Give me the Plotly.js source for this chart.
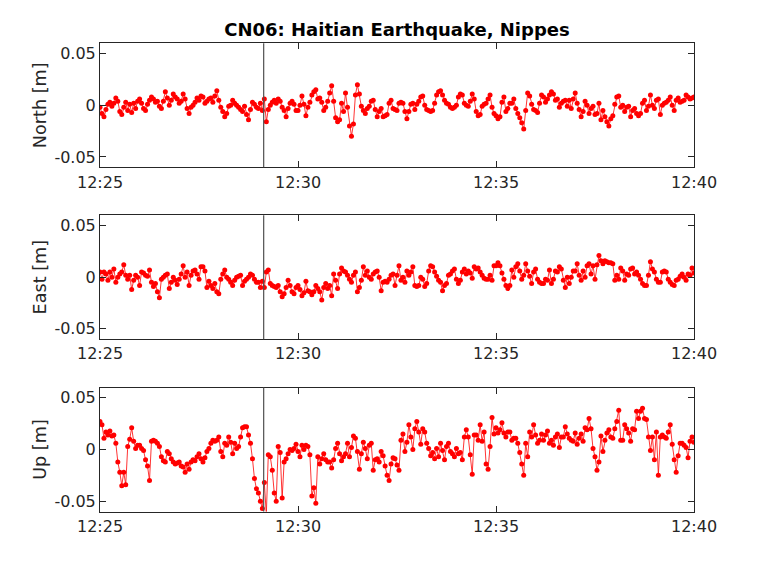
<!DOCTYPE html>
<html>
<head>
<meta charset="utf-8">
<script src="https://cdn.plot.ly/plotly-3.0.1.min.js"></script>
<style>html,body{margin:0;padding:0;background:#fff;}#chart{width:768px;height:576px;}</style>
</head>
<body>
<div id="chart"></div>
<script>
// Sampling: one sample every 3 s from 12:25:00 to 12:40:00 (UTC), 2021-08-14
const startTime = Date.UTC(2021, 7, 14, 12, 25, 0);
const sampleSeconds = 3;
const quakeTime = '2021-08-14 12:29:08';
const panelLabels = ['North [m]', 'East [m]', 'Up [m]'];
const yTickVals = [-0.05, 0, 0.05];
const yTickText = ['-0.05', '0', '0.05'];

const north = [
-0.002,-0.008,-0.011,-0.004,0.001,0.003,-0.001,0.002,0.007,0.004,-0.006,-0.009,-0.002,0.003,-0.005,0.001,-0.007,0.002,-0.003,0.004,
0.006,0.002,-0.003,-0.005,0.001,0.005,0.008,0.006,0.003,0.004,-0.001,-0.003,0.004,0.013,0.007,0.000,0.005,0.011,0.008,0.006,
0.002,0.004,0.011,0.006,-0.003,-0.008,-0.002,0.000,0.003,0.007,0.005,0.009,0.008,0.002,0.004,0.006,0.007,0.003,0.009,0.014,
0.005,-0.002,-0.006,-0.011,-0.008,-0.001,0.000,0.005,0.002,0.000,-0.002,-0.004,-0.006,-0.001,-0.009,-0.014,-0.004,0.003,0.001,-0.002,
-0.003,0.002,-0.005,0.006,-0.016,-0.004,0.000,0.003,0.005,0.002,0.006,0.004,-0.002,-0.005,-0.011,-0.003,0.002,0.004,0.001,-0.005,
-0.005,0.000,0.009,0.001,-0.010,-0.002,0.003,0.010,0.013,0.015,0.006,0.007,0.003,-0.005,-0.002,0.004,0.012,0.019,0.004,-0.012,
-0.016,-0.014,0.002,-0.006,0.012,-0.002,-0.020,-0.030,-0.018,0.010,0.020,0.011,-0.001,-0.005,-0.008,-0.003,-0.001,0.004,0.005,-0.004,
-0.011,-0.006,-0.003,-0.011,-0.010,-0.009,0.002,0.005,-0.003,-0.004,-0.005,0.002,0.003,0.002,-0.006,-0.013,-0.006,0.001,0.002,-0.004,
0.001,0.004,0.008,0.009,0.000,-0.004,-0.005,-0.006,-0.005,0.002,0.010,0.013,0.014,0.010,0.005,0.002,0.001,-0.002,-0.003,-0.002,
0.000,0.008,0.011,0.010,0.002,0.000,-0.001,0.004,0.011,0.006,-0.006,-0.010,-0.009,-0.001,0.001,0.002,0.006,0.010,-0.002,-0.008,
-0.010,-0.013,-0.011,0.003,0.008,-0.006,-0.003,0.002,0.002,0.006,-0.003,-0.008,-0.012,-0.017,-0.023,-0.005,0.012,0.009,0.001,-0.004,
-0.005,-0.007,0.002,0.010,0.008,0.003,0.006,0.010,0.013,0.011,0.005,0.006,-0.002,0.002,0.004,0.005,-0.001,0.005,-0.003,0.006,
0.012,0.002,-0.004,-0.011,-0.006,0.004,0.000,-0.008,-0.003,-0.001,-0.009,-0.008,0.002,-0.014,-0.005,-0.011,-0.016,-0.020,-0.013,-0.010,
0.001,0.008,0.009,-0.002,0.000,-0.006,-0.002,-0.001,-0.011,-0.005,-0.003,-0.008,-0.010,-0.008,0.002,0.005,-0.005,-0.001,0.010,0.000,
-0.003,0.005,0.006,-0.009,0.000,0.002,0.003,0.005,0.008,0.000,-0.005,0.005,0.007,0.003,0.004,0.005,0.010,0.008,0.006,0.007,
0.008];

const east = [
0.005,-0.002,0.005,0.003,-0.003,0.005,0.000,0.008,-0.005,0.000,0.003,0.005,0.012,0.002,-0.002,0.002,-0.012,-0.003,0.002,0.000,
-0.008,0.005,0.004,0.002,0.001,0.007,-0.005,-0.009,-0.006,-0.014,-0.020,-0.002,0.000,0.002,0.003,-0.011,-0.005,0.000,-0.003,-0.007,
-0.002,0.003,0.011,0.000,0.005,-0.008,0.002,0.006,0.007,0.003,-0.002,0.010,0.010,0.006,-0.010,-0.004,-0.008,-0.011,-0.006,-0.014,
-0.016,-0.002,0.003,0.007,0.000,-0.002,-0.005,-0.008,-0.003,0.000,0.001,0.002,-0.008,-0.004,-0.002,0.000,0.003,0.002,-0.002,-0.005,
-0.005,-0.010,-0.004,-0.010,0.005,0.007,-0.006,-0.008,-0.009,-0.010,-0.008,-0.014,-0.019,-0.016,-0.010,-0.003,-0.008,-0.014,-0.016,-0.010,
-0.008,-0.012,-0.018,-0.015,-0.004,-0.013,-0.014,-0.017,-0.014,-0.008,-0.011,-0.014,-0.022,-0.010,-0.006,-0.011,-0.008,-0.018,0.003,-0.003,
-0.011,0.003,0.009,0.006,0.005,0.002,-0.002,-0.005,0.002,0.005,-0.014,-0.010,-0.003,0.010,0.002,0.006,0.000,-0.002,0.003,0.005,
0.006,0.000,-0.013,-0.005,-0.004,-0.005,-0.002,0.002,0.003,-0.008,0.002,0.011,-0.003,0.000,-0.005,0.006,0.002,0.005,0.010,-0.008,
-0.009,-0.008,0.000,-0.002,-0.009,-0.006,0.006,0.011,0.010,0.005,0.001,-0.003,-0.005,-0.013,-0.008,-0.006,0.002,0.003,0.006,0.008,
-0.002,-0.006,-0.003,0.005,0.008,0.003,0.006,0.004,-0.001,0.010,0.008,0.009,0.005,0.002,-0.001,-0.002,-0.002,0.002,-0.003,0.011,
0.011,0.014,0.011,0.004,-0.002,-0.008,-0.011,-0.008,0.007,0.000,0.010,0.013,0.006,-0.002,0.002,0.013,0.006,0.001,-0.006,0.005,
0.008,-0.002,-0.005,-0.006,-0.006,-0.002,-0.003,0.007,-0.006,-0.002,0.006,0.005,0.010,0.008,-0.003,-0.010,0.000,-0.006,0.000,0.006,
0.006,0.013,0.002,-0.003,0.006,0.000,0.011,0.013,0.003,0.011,-0.002,0.012,0.021,0.016,0.013,0.016,0.015,0.014,0.014,0.013,
-0.003,0.002,-0.002,0.009,0.006,-0.003,0.003,0.002,0.008,0.009,0.003,0.005,0.002,-0.002,-0.006,-0.008,-0.008,0.002,0.015,0.008,
0.005,-0.002,-0.005,-0.005,0.005,0.006,0.005,-0.002,-0.005,-0.007,-0.008,-0.003,-0.002,0.001,0.003,0.000,-0.003,0.003,0.002,0.009,
0.004];

const up = [
0.027,0.024,0.011,0.017,0.014,0.018,0.013,0.014,0.006,-0.012,-0.022,-0.035,-0.022,-0.034,0.003,0.010,0.021,0.008,0.001,0.004,
0.004,0.001,-0.001,-0.010,-0.016,-0.030,0.008,0.009,0.008,0.006,0.003,-0.007,-0.011,-0.012,-0.002,-0.004,-0.009,-0.012,-0.014,-0.013,
-0.012,-0.016,-0.017,-0.022,-0.014,-0.019,-0.012,-0.010,-0.011,-0.007,-0.004,-0.009,-0.012,-0.008,-0.002,0.001,0.006,0.009,0.008,0.009,
0.012,-0.002,-0.007,0.006,0.004,0.012,0.007,-0.004,0.006,0.001,0.003,0.012,0.021,0.022,0.022,0.014,0.006,-0.009,-0.028,-0.038,
-0.042,-0.050,-0.057,-0.032,-0.063,-0.005,-0.007,-0.020,-0.042,-0.050,0.003,-0.003,-0.047,-0.012,-0.009,-0.004,0.000,-0.001,0.001,0.005,
-0.002,-0.007,0.004,0.000,0.004,0.003,-0.005,-0.045,-0.037,-0.052,-0.007,-0.014,-0.009,-0.004,-0.010,-0.012,-0.012,-0.018,-0.010,0.001,
0.006,-0.004,-0.011,-0.007,-0.004,0.006,-0.007,0.002,0.013,0.011,-0.002,-0.019,-0.004,0.007,0.001,-0.009,0.004,0.006,-0.020,-0.010,
-0.009,-0.012,-0.002,-0.006,-0.016,-0.025,-0.030,-0.014,-0.008,-0.009,-0.015,-0.020,0.009,0.015,-0.002,0.007,0.024,0.012,0.000,0.020,
0.027,0.017,0.005,0.020,0.017,0.006,0.001,-0.006,-0.003,-0.009,0.001,-0.007,0.006,-0.001,-0.010,0.003,0.006,-0.002,-0.004,-0.007,
0.001,-0.004,-0.003,-0.010,0.012,0.019,0.012,-0.005,-0.024,0.014,0.014,0.009,0.024,0.008,0.017,-0.014,-0.019,0.003,0.031,0.015,
0.021,0.016,0.019,0.026,0.016,0.012,0.017,0.017,0.009,0.011,0.011,0.006,-0.003,-0.014,-0.025,0.006,-0.007,0.017,0.012,0.024,
0.014,0.006,0.009,0.015,0.009,0.014,0.018,0.006,0.009,0.004,0.012,0.015,0.002,0.012,0.012,0.022,0.015,0.011,0.009,0.008,
0.016,0.005,0.011,0.015,0.008,0.021,0.019,0.030,0.020,0.001,-0.007,-0.020,-0.012,0.013,-0.002,0.009,0.016,0.019,0.012,0.011,
0.020,0.027,0.038,0.009,0.009,0.024,0.020,0.016,0.008,0.020,0.019,0.037,0.030,0.037,0.040,0.030,0.029,0.012,-0.001,0.012,
-0.010,0.017,-0.025,0.012,0.014,0.012,0.011,0.017,0.024,0.005,-0.010,-0.022,-0.006,0.006,0.006,0.004,0.002,-0.008,0.008,0.012,
0.007];

const times = north.map((_, i) => startTime + i * sampleSeconds * 1000);

const W = 768, H = 576;
const xDom = [100 / W, 694 / W];
const boxes = [[43.3, 167.3], [215.2, 339.2], [387.5, 511.5]];
const series = [north, east, up];
const ink = '#262626';
const font = 'DejaVu Sans, sans-serif';

const data = series.map((vals, k) => ({
  x: times, y: vals, type: 'scatter', mode: 'lines+markers',
  xaxis: k === 0 ? 'x' : 'x' + (k + 1), yaxis: k === 0 ? 'y' : 'y' + (k + 1),
  line: {color: '#ff0000', width: 0.8},
  marker: {color: '#ff0000', size: 5},
  hoverinfo: 'skip', showlegend: false
}));

const layout = {
  width: W, height: H,
  margin: {l: 0, r: 0, t: 0, b: 0},
  paper_bgcolor: '#ffffff', plot_bgcolor: '#ffffff',
  font: {family: font, color: ink, size: 16},
  title: {text: '<b>CN06: Haitian Earthquake, Nippes</b>', font: {family: font, size: 18, color: '#000000'},
          x: 397 / W, xanchor: 'center', y: 1 - 30 / H, yanchor: 'middle', xref: 'paper', yref: 'container'},
  shapes: []
};

for (let k = 0; k < 3; k++) {
  const sx = k === 0 ? '' : String(k + 1);
  layout['xaxis' + sx] = {
    domain: xDom, anchor: 'y' + sx, type: 'date',
    range: ['2021-08-14 12:25:00', '2021-08-14 12:40:00'],
    tick0: '2021-08-14 12:25:00', dtick: 300000, tickformat: '%H:%M',
    showline: true, mirror: 'ticks', linecolor: ink, linewidth: 1,
    ticks: 'inside', ticklen: 6, tickcolor: ink, tickwidth: 1,
    showgrid: false, zeroline: false, automargin: false,
    tickfont: {family: font, size: 16, color: ink}
  };
  layout['yaxis' + sx] = {
    domain: [1 - boxes[k][1] / H, 1 - boxes[k][0] / H], anchor: 'x' + sx,
    range: [-0.06, 0.06], tickvals: yTickVals, ticktext: yTickText,
    showline: true, mirror: 'ticks', linecolor: ink, linewidth: 1,
    ticks: 'inside', ticklen: 6, tickcolor: ink, tickwidth: 1,
    showgrid: false, zeroline: false, automargin: false,
    tickfont: {family: font, size: 16, color: ink},
    title: {text: panelLabels[k], font: {family: font, size: 17.6, color: ink}, standoff: 3}
  };
  layout.shapes.push({
    type: 'line', xref: 'x' + sx, yref: 'y' + sx + ' domain',
    x0: quakeTime, x1: quakeTime, y0: 0, y1: 1,
    line: {color: '#505050', width: 1.2}
  });
}

Plotly.newPlot('chart', data, layout, {staticPlot: true, displayModeBar: false});
</script>
</body>
</html>
